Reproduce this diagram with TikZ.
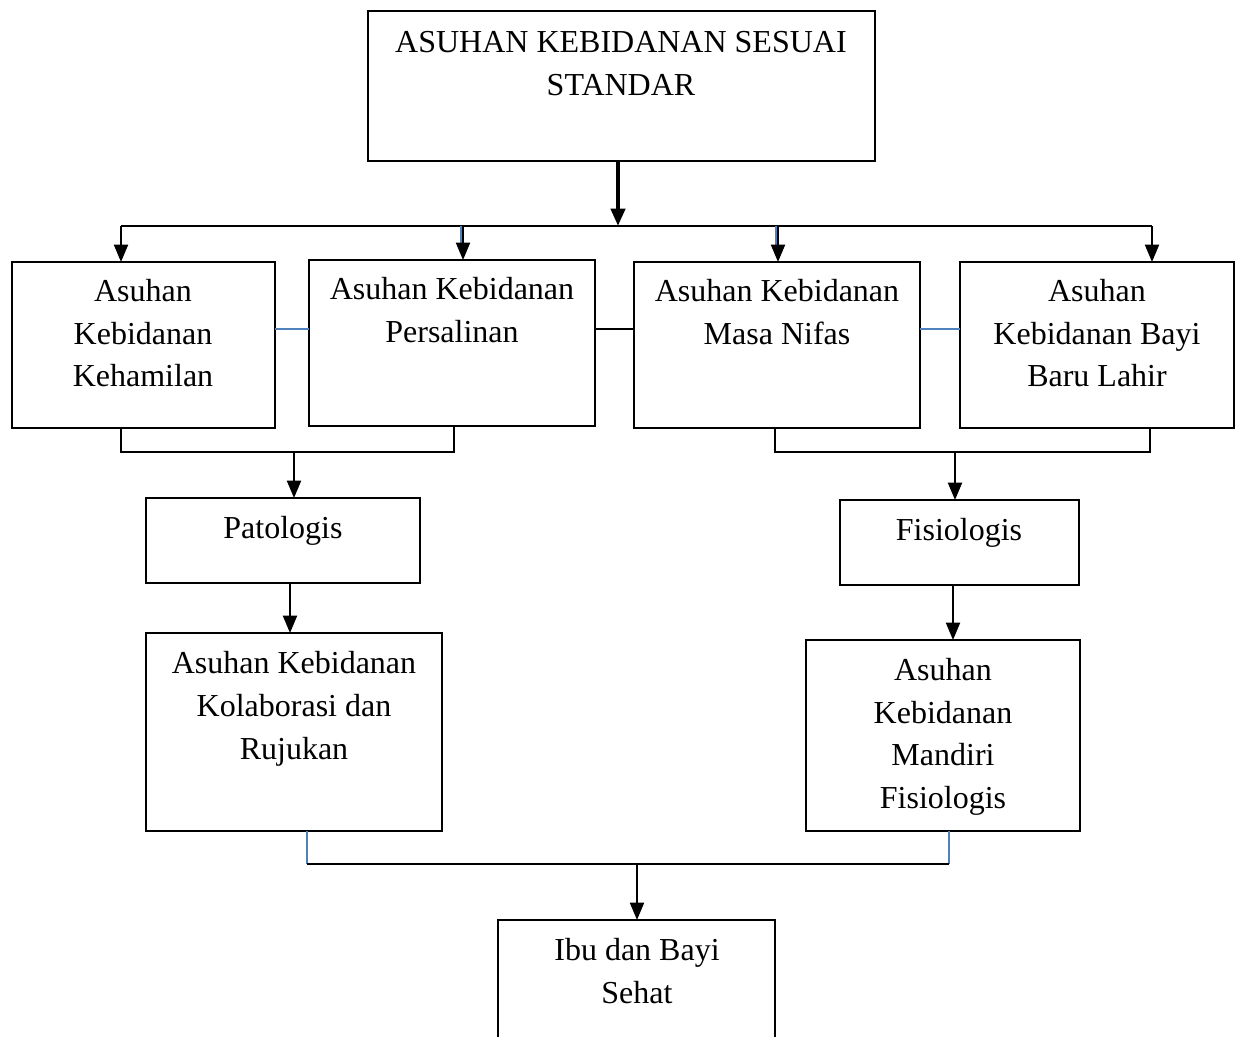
\documentclass[tikz,border=0pt]{standalone}
\usepackage{fontspec}
\setmainfont{Liberation Serif}
\usetikzlibrary{arrows.meta}
\definecolor{wblue}{RGB}{79,129,189}
\begin{document}
\begin{tikzpicture}[x=0.75pt,y=-0.75pt,
  box/.style={draw,line width=1.5pt,inner sep=0pt,outer sep=0pt},
  txt/.style={anchor=base,align=center,inner sep=0pt,font=\fontsize{24pt}{31.9pt}\selectfont},
  ln/.style={line width=1.5pt},
  blueln/.style={line width=1.5pt,draw=wblue},
  arr/.style={line width=1.5pt,-{Triangle[length=13pt,width=10.5pt]}},
  bigarr/.style={line width=3pt,-{Triangle[length=13pt,width=10.5pt]}}]
\useasboundingbox (0,0) rectangle (1240,1037);
\clip (0,0) rectangle (1240,1037);
% boxes
\node[box,minimum width=380.25pt,minimum height=112.5pt] (top) at (621.5,86) {};
\node[box,minimum width=197.25pt,minimum height=124.5pt] (b1) at (143.5,345) {};
\node[box,minimum width=214.5pt,minimum height=124.5pt] (b2) at (452,343) {};
\node[box,minimum width=214.5pt,minimum height=124.5pt] (b3) at (777,345) {};
\node[box,minimum width=205.5pt,minimum height=124.5pt] (b4) at (1097,345) {};
\node[box,minimum width=205.5pt,minimum height=63.75pt] (pat) at (283,540.5) {};
\node[box,minimum width=222pt,minimum height=148.5pt] (kol) at (294,732) {};
\node[box,minimum width=179.25pt,minimum height=63.75pt] (fis) at (959.5,542.5) {};
\node[box,minimum width=205.5pt,minimum height=143.25pt] (man) at (943,735.5) {};
\node[box,minimum width=207.75pt,minimum height=105pt] (ibu) at (636.5,990) {};
% texts (anchored at the baseline of the last line)
\node[txt] (ttop) at (621,95.5) {ASUHAN KEBIDANAN SESUAI\\STANDAR};
\node[txt] (tb1) at (143,387) {Asuhan\\Kebidanan\\Kehamilan};
\node[txt] (tb2) at (452,342.5) {Asuhan Kebidanan\\Persalinan};
\node[txt] (tb3) at (777,344.5) {Asuhan Kebidanan\\Masa Nifas};
\node[txt] (tb4) at (1097,387) {Asuhan\\Kebidanan Bayi\\Baru Lahir};
\node[txt] (tpat) at (283,539) {Patologis};
\node[txt] (tkol) at (294,759) {Asuhan Kebidanan\\Kolaborasi dan\\Rujukan};
\node[txt] (tfis) at (959,541) {Fisiologis};
\node[txt] (tman) at (943,808.5) {Asuhan\\Kebidanan\\Mandiri\\Fisiologis};
\node[txt] (tibu) at (637,1003.5) {Ibu dan Bayi\\Sehat};
% coordinates
\coordinate (hub) at (618,226);
\coordinate (hL) at (121,226);
\coordinate (hR) at (1152,226);
\coordinate (h2) at (463,226);
\coordinate (h2b) at (461,226);
\coordinate (h3) at (778,226);
\coordinate (h3b) at (776,226);
\coordinate (mid) at (0,329);
\coordinate (lb1) at (121,452);
\coordinate (lb2) at (454,452);
\coordinate (la) at (294,452);
\coordinate (pk) at (290,0);
\coordinate (rb1) at (775,452);
\coordinate (rb2) at (1150,452);
\coordinate (ra) at (955,452);
\coordinate (fm) at (953,0);
\coordinate (bl) at (307,864);
\coordinate (br) at (949,864);
\coordinate (bm) at (637,864);
% top connectors
\draw[bigarr] (top.south -| hub) -- (hub);
\draw[ln] (hL) -- (hR);
\draw[blueln] (h2b) -- ++(0,24);
\draw[blueln] (h3b) -- ++(0,24);
\draw[arr] (hL) -- (b1.north -| hL);
\draw[arr] (h2) -- (b2.north -| h2);
\draw[arr] (h3) -- (b3.north -| h3);
\draw[arr] (hR) -- (b4.north -| hR);
% side links
\draw[blueln] (b1.east |- mid) -- (b2.west |- mid);
\draw[ln] (b2.east |- mid) -- (b3.west |- mid);
\draw[blueln] (b3.east |- mid) -- (b4.west |- mid);
% brackets
\draw[ln] (b1.south -| lb1) -- (lb1) -- (lb2) -- (b2.south -| lb2);
\draw[arr] (la) -- (la |- pat.north);
\draw[arr] (pat.south -| pk) -- (kol.north -| pk);
\draw[ln] (b3.south -| rb1) -- (rb1) -- (rb2) -- (b4.south -| rb2);
\draw[arr] (ra) -- (ra |- fis.north);
\draw[arr] (fis.south -| fm) -- (man.north -| fm);
% bottom
\draw[blueln] (kol.south -| bl) -- (bl);
\draw[blueln] (man.south -| br) -- (br);
\draw[ln] (bl) -- (br);
\draw[arr] (bm) -- (bm |- ibu.north);
\end{tikzpicture}
\end{document}
